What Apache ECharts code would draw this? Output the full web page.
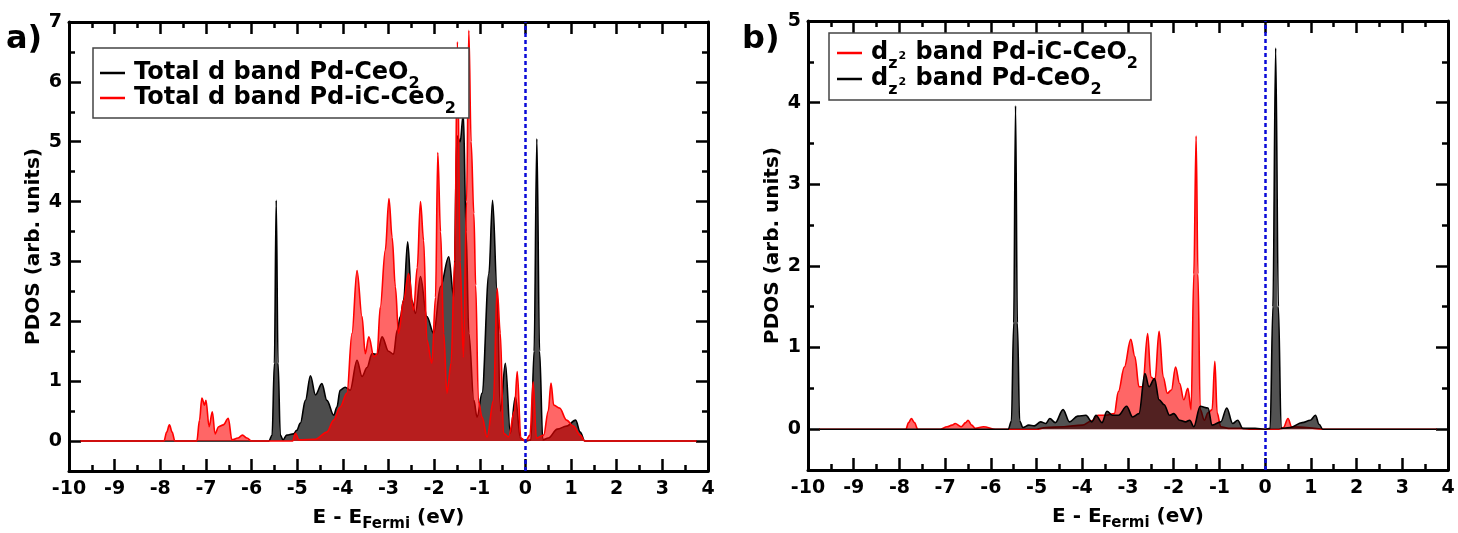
<!DOCTYPE html>
<html>
<head>
<meta charset="utf-8">
<script src="https://cdn.jsdelivr.net/npm/echarts@6/dist/echarts.min.js"></script>
<style>html,body{margin:0;padding:0;background:#fff;}#c{width:1458px;height:533px;}</style>
</head>
<body>
<div id="c"></div>
<script>
// ---------- data (energy in eV, PDOS in arb. units) ----------
const aTotalD_PdCeO2 = [
[-9.75,0],[-5.62,0],[-5.55,0.1],[-5.5,1.3],[-5.46,4.02],[-5.42,1.3],[-5.37,0.1],[-5.31,0.02],
[-5.23,0.1],[-5.08,0.12],[-5.01,0.18],[-4.93,0.3],[-4.82,0.68],[-4.71,1.09],[-4.6,0.77],[-4.46,0.96],
[-4.35,0.68],[-4.2,0.43],[-4.13,0.57],[-4.06,0.85],[-3.95,0.9],[-3.84,0.85],[-3.69,1.35],[-3.58,1.08],
[-3.47,1.23],[-3.36,1.46],[-3.25,1.45],[-3.14,1.74],[-3.0,1.5],[-2.89,1.45],[-2.81,1.85],[-2.74,2.08],
[-2.67,2.35],[-2.58,3.33],[-2.49,2.35],[-2.41,2.13],[-2.3,2.75],[-2.16,2.08],[-2.01,1.8],[-1.86,2.58],
[-1.68,3.08],[-1.57,2.4],[-1.5,5.1],[-1.43,5.0],[-1.36,5.47],[-1.3,3.5],[-1.24,1.8],[-1.13,0.68],
[-1.06,0.4],[-0.95,0.8],[-0.8,2.8],[-0.72,4.02],[-0.62,2.5],[-0.55,0.5],[-0.44,1.3],[-0.33,0.13],
[-0.22,0.74],[-0.11,0.05],[0.0,0.0],[0.12,0.02],[0.19,1.5],[0.25,5.05],[0.31,1.5],[0.38,0.02],
[0.5,0.05],[0.7,0.2],[0.9,0.25],[1.1,0.35],[1.2,0.15],[1.3,0],[3.75,0]
];
const aTotalD_PdiCCeO2 = [
[-9.75,0],[-7.92,0],[-7.86,0.15],[-7.8,0.27],[-7.74,0.15],[-7.68,0],[-7.2,0],[-7.14,0.35],
[-7.09,0.72],[-7.03,0.6],[-7.0,0.68],[-6.93,0.24],[-6.86,0.49],[-6.8,0.12],[-6.72,0.24],[-6.62,0.27],
[-6.51,0.38],[-6.43,0.02],[-6.3,0.05],[-6.2,0.1],[-6.1,0.05],[-6.0,0],[-5.1,0],[-5.04,0.13],
[-4.96,0.02],[-4.6,0.03],[-4.35,0.15],[-4.2,0.35],[-4.06,0.57],[-3.91,0.8],[-3.8,1.8],[-3.69,2.85],
[-3.58,2.08],[-3.51,1.46],[-3.43,1.74],[-3.32,1.41],[-3.25,1.45],[-3.18,2.24],[-3.07,3.19],[-2.99,4.05],
[-2.92,3.4],[-2.85,2.58],[-2.78,1.8],[-2.67,2.35],[-2.56,2.8],[-2.45,2.19],[-2.37,2.9],[-2.3,4.0],
[-2.23,3.35],[-2.16,1.69],[-2.05,1.3],[-1.97,2.4],[-1.92,4.82],[-1.86,3.5],[-1.79,1.8],[-1.72,0.8],
[-1.63,1.3],[-1.55,3.0],[-1.49,6.67],[-1.43,3.0],[-1.36,1.4],[-1.29,4.0],[-1.24,6.86],[-1.19,5.0],
[-1.13,3.8],[-1.09,2.6],[-1.03,0.67],[-0.95,0.4],[-0.84,0.07],[-0.7,0.68],[-0.62,2.55],[-0.55,1.8],
[-0.48,0.13],[-0.37,0.07],[-0.24,0.5],[-0.18,1.16],[-0.1,0.05],[0.0,0.0],[0.1,0.1],[0.17,0.99],
[0.24,0.05],[0.4,0.1],[0.5,0.5],[0.56,0.97],[0.62,0.6],[0.75,0.55],[0.9,0.35],[1.05,0.25],
[1.2,0.1],[1.3,0],[3.75,0]
];
const bDz2_PdiCCeO2 = [
[-9.75,0],[-7.86,0],[-7.8,0.08],[-7.74,0.13],[-7.67,0.08],[-7.6,0],[-7.1,0],[-6.96,0.03],
[-6.85,0.05],[-6.78,0.07],[-6.65,0.03],[-6.55,0.08],[-6.5,0.11],[-6.42,0.05],[-6.34,0.01],[-6.16,0.03],
[-5.9,0],[-5.0,0],[-4.8,0.02],[-4.4,0.03],[-4.0,0.05],[-3.8,0.1],[-3.66,0.17],[-3.5,0.17],
[-3.3,0.19],[-3.21,0.46],[-3.08,0.76],[-2.94,1.1],[-2.85,0.89],[-2.76,0.52],[-2.68,0.52],[-2.57,1.17],
[-2.5,0.64],[-2.41,0.6],[-2.32,1.2],[-2.23,0.64],[-2.14,0.44],[-2.05,0.48],[-1.96,0.76],[-1.87,0.56],
[-1.78,0.36],[-1.69,0.5],[-1.62,0.24],[-1.56,1.9],[-1.51,3.59],[-1.47,1.9],[-1.42,0.24],[-1.33,0.11],
[-1.25,0.2],[-1.16,0.24],[-1.1,0.83],[-1.05,0.2],[-0.97,0.03],[-0.8,0.01],[-0.53,0.01],[-0.35,0],
[0.3,0],[0.4,0.02],[0.5,0.13],[0.58,0.03],[0.9,0.02],[1.25,0],[3.75,0]
];
const bDz2_PdCeO2 = [
[-9.75,0],[-5.62,0],[-5.55,0.1],[-5.5,1.3],[-5.46,3.96],[-5.42,1.3],[-5.37,0.1],[-5.3,0.02],
[-5.17,0.05],[-5.05,0.04],[-4.91,0.09],[-4.8,0.07],[-4.71,0.13],[-4.59,0.08],[-4.42,0.24],[-4.28,0.09],
[-4.1,0.16],[-3.92,0.17],[-3.79,0.09],[-3.7,0.17],[-3.57,0.08],[-3.46,0.22],[-3.34,0.17],[-3.21,0.17],
[-3.03,0.28],[-2.9,0.15],[-2.76,0.19],[-2.63,0.68],[-2.54,0.52],[-2.42,0.62],[-2.32,0.36],[-2.21,0.3],
[-2.09,0.17],[-2.0,0.19],[-1.87,0.11],[-1.74,0.09],[-1.65,0.11],[-1.56,0.03],[-1.42,0.28],[-1.25,0.26],
[-1.16,0.05],[-0.97,0.09],[-0.84,0.26],[-0.71,0.07],[-0.6,0.11],[-0.49,0.01],[-0.22,0.01],[0.0,0.0],
[0.11,0.01],[0.17,1.5],[0.23,4.67],[0.29,1.5],[0.35,0.01],[0.54,0.02],[0.81,0.08],[0.99,0.11],
[1.1,0.17],[1.18,0.06],[1.26,0],[3.75,0]
];
const yMajorA = [0,1,2,3,4,5,6,7];
const yMajorB = [0,1,2,3,4,5];
const fermiLevel = 0;

// ---------- styling ----------
const FF = 'DejaVu Sans';
const chart = echarts.init(document.getElementById('c'), null, {renderer:'canvas'});
const lineW = 3, tickW = 2.5;

function xAxes(grid){
  const base = {gridIndex:grid, type:'value', min:-10, max:4, interval:1,
    axisLine:{onZero:false, lineStyle:{color:'#000', width:lineW}},
    axisTick:{inside:true, length:12, lineStyle:{color:'#000', width:tickW}},
    minorTick:{show:true, splitNumber:2, length:6, lineStyle:{color:'#000', width:tickW}},
    splitLine:{show:false}, minorSplitLine:{show:false}};
  return [
    Object.assign({}, base, {position:'bottom',
      axisLabel:{fontFamily:FF, fontWeight:'bold', fontSize:19, color:'#000', margin:9},
      name:'{m|E - E}{s|Fermi}{m| (eV)}', nameLocation:'middle', nameGap:33,
      nameTextStyle:{rich:{
        m:{fontFamily:FF, fontWeight:'bold', fontSize:20, color:'#000', lineHeight:28},
        s:{fontFamily:FF, fontWeight:'bold', fontSize:15, color:'#000', lineHeight:12, verticalAlign:'bottom'}}}}),
    Object.assign({}, base, {position:'top', axisLabel:{show:false}})
  ];
}
function yAxes(grid, max, majors, withName){
  const common = {gridIndex:grid, type:'value', min:-0.5, max:max, splitLine:{show:false}};
  const major = (pos, lab) => Object.assign({}, common, {position:pos, interval:0.5,
    axisLine:{onZero:false, lineStyle:{color:'#000', width:lineW}},
    axisTick:{inside:true, length:12, customValues:majors, lineStyle:{color:'#000', width:tickW}},
    axisLabel: lab ? {customValues:majors, fontFamily:FF, fontWeight:'bold', fontSize:19, color:'#000', margin:7}
                   : {show:false}},
    (lab && withName) ? {name:'PDOS (arb. units)', nameLocation:'middle', nameGap:25,
      nameTextStyle:{fontFamily:FF, fontWeight:'bold', fontSize:20, color:'#000'}} : {});
  const minor = (pos) => Object.assign({}, common, {position:pos, interval:0.5,
    axisLine:{show:false, onZero:false}, axisLabel:{show:false},
    axisTick:{inside:true, length:6, lineStyle:{color:'#000', width:tickW}}});
  return [major('left', true), minor('left'), major('right', false), minor('right')];
}

const fermiMark = {silent:true, symbol:['none','none'], label:{show:false},
  lineStyle:{color:'#0a0ad8', width:2.5, type:[4,3]}, data:[{xAxis:fermiLevel}], animation:false};

function areaSeries(name, data, xi, yi, color, fill, z, mark){
  const s = {name:name, type:'line', data:data, xAxisIndex:xi, yAxisIndex:yi,
    showSymbol:false, symbol:'none', smooth:0.35, smoothMonotone:'x', z:z,
    color:color, lineStyle:{color:color, width:1.6},
    areaStyle:{color:fill, origin:0, opacity:1}};
  if (mark) s.markLine = fermiMark;
  return s;
}

const legendRich = {
  t0:{fontFamily:FF, fontWeight:'bold', fontSize:24, color:'#000', lineHeight:38, padding:[0,0,0,4]},
  t:{fontFamily:FF, fontWeight:'bold', fontSize:24, color:'#000', lineHeight:38},
  s:{fontFamily:FF, fontWeight:'bold', fontSize:16, color:'#000', lineHeight:12, verticalAlign:'bottom'},
  z:{fontFamily:FF, fontWeight:'bold', fontSize:16, color:'#000', lineHeight:12, verticalAlign:'bottom'},
  p:{fontFamily:FF, fontWeight:'bold', fontSize:11, color:'#000', lineHeight:11, padding:[6,1,0,1]}
};
const legendText = {
  'Total d band Pd-CeO2':'{t0|Total d band Pd-CeO}{s|2}',
  'Total d band Pd-iC-CeO2':'{t0|Total d band Pd-iC-CeO}{s|2}',
  'dz2 band Pd-iC-CeO2':'{t0|d}{z|z}{p|2}{t| band Pd-iC-CeO}{s|2}',
  'dz2 band Pd-CeO2':'{t0|d}{z|z}{p|2}{t| band Pd-CeO}{s|2}'
};
function legend(names, left, top, pad, gap){
  return {data:names, orient:'vertical', left:left, top:top, padding:pad, itemGap:gap,
    icon:'rect', itemWidth:25, itemHeight:2.5, selectedMode:false,
    borderColor:'#444', borderWidth:1.5, backgroundColor:'#fff',
    formatter:(n)=>legendText[n], textStyle:{rich:legendRich}};
}

const option = {
  animation:false,
  backgroundColor:'#fff',
  grid:[
    {left:69, top:22, width:639, height:449, outerBoundsMode:'none', containLabel:false},
    {left:808, top:21, width:640, height:449, outerBoundsMode:'none', containLabel:false}
  ],
  xAxis:[...xAxes(0), ...xAxes(1)],
  yAxis:[...yAxes(0, 7, yMajorA, true), ...yAxes(1, 5, yMajorB, true)],
  legend:[
    legend(['Total d band Pd-CeO2','Total d band Pd-iC-CeO2'], 93, 48, [13,13,1,7], -6),
    legend(['dz2 band Pd-iC-CeO2','dz2 band Pd-CeO2'], 829, 33, [8,13,2,8], -5)
  ],
  graphic:[
    {type:'text', left:6, top:24, style:{text:'a)', font:'bold 32px "DejaVu Sans"', fill:'#000'}},
    {type:'text', left:742, top:24, style:{text:'b)', font:'bold 32px "DejaVu Sans"', fill:'#000'}}
  ],
  series:[
    areaSeries('Total d band Pd-CeO2', aTotalD_PdCeO2, 0, 0, '#000000', '#4d4d4d', 2, false),
    areaSeries('Total d band Pd-iC-CeO2', aTotalD_PdiCCeO2, 0, 0, '#ff0000', 'rgba(255,0,0,0.6)', 3, true),
    areaSeries('dz2 band Pd-iC-CeO2', bDz2_PdiCCeO2, 2, 4, '#ff0000', 'rgba(255,0,0,0.6)', 2, false),
    areaSeries('dz2 band Pd-CeO2', bDz2_PdCeO2, 2, 4, '#000000', 'rgba(0,0,0,0.68)', 3, true)
  ]
};
chart.setOption(option);
</script>
</body>
</html>
